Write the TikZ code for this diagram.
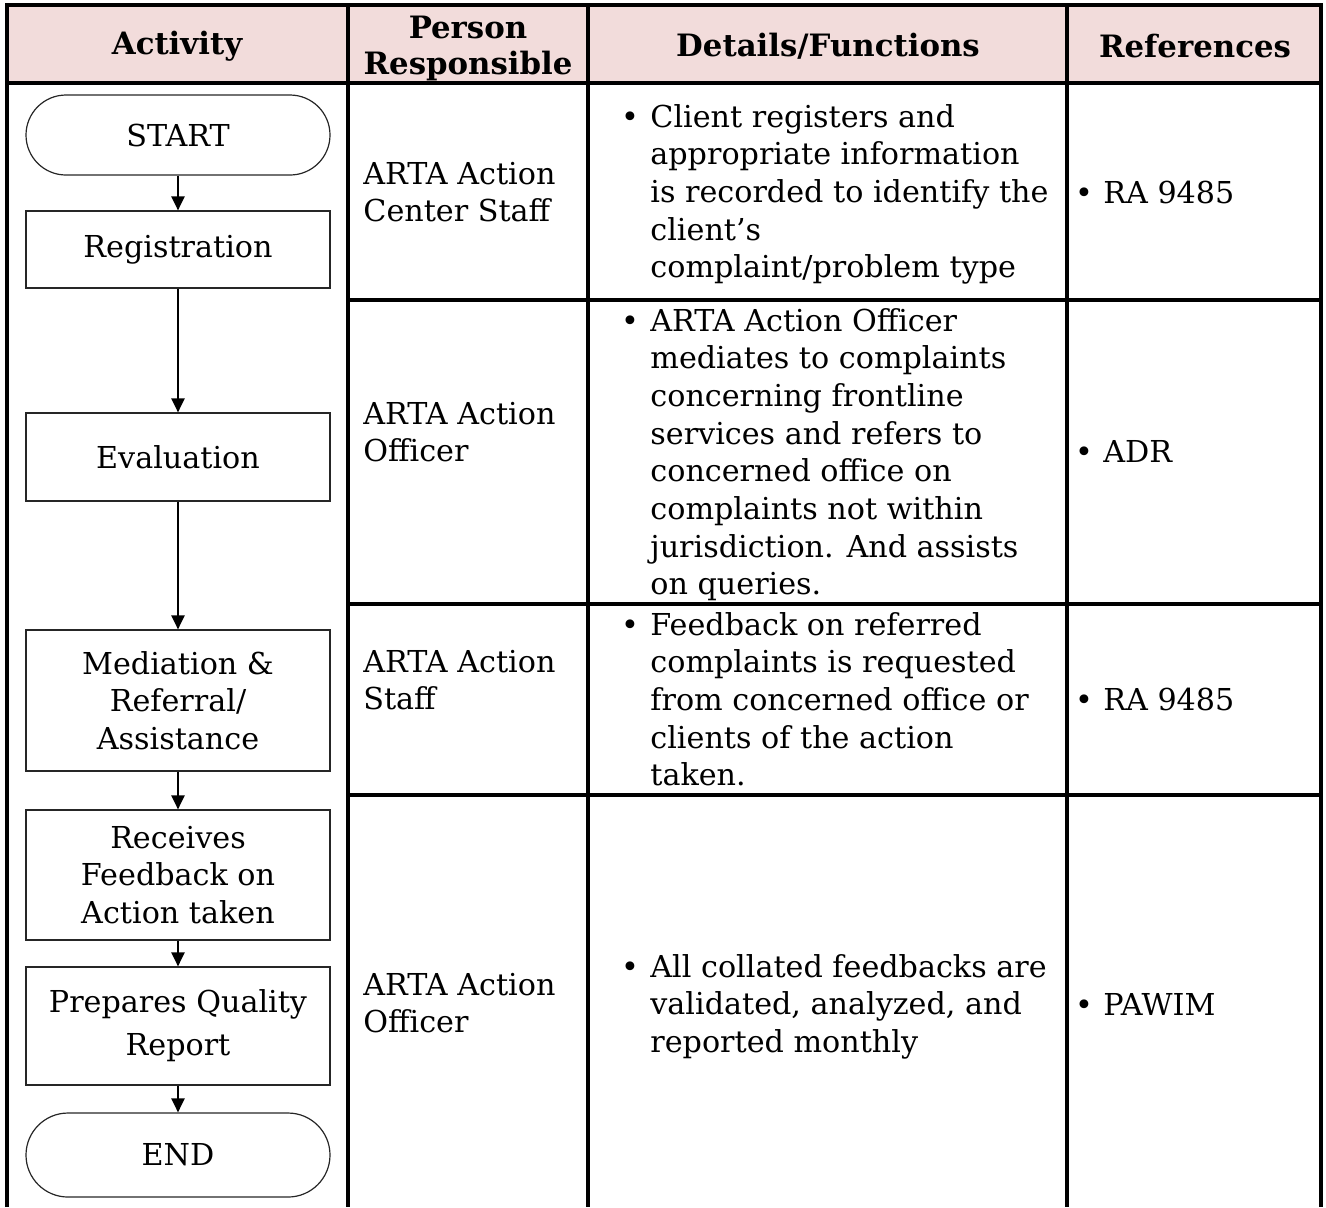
\documentclass[tikz,border=0pt]{standalone}
\usepackage{fontspec}
\setmainfont{DejaVu Serif}
\usetikzlibrary{arrows.meta}
\definecolor{hdr}{RGB}{242,220,219}
\newcommand\cellt[1]{\begin{tabular}[t]{@{}l@{}}#1\end{tabular}}
\begin{document}
\begin{tikzpicture}[x=0.5pt,y=-0.5pt,
  txt/.style={font=\fontsize{15.1}{18.85}\selectfont, inner sep=0pt},
  hd/.style={font=\fontsize{15.4}{18}\selectfont\bfseries, inner sep=0pt, align=center},
  fbox/.style={draw=black!85, line width=0.6pt, inner sep=0pt, align=center,
    font=\fontsize{15.1}{18.75}\selectfont, minimum width=152pt},
  term/.style={fbox, rounded corners=20pt},
  flow/.style={line width=1.1pt, -{Triangle[length=7pt,width=6.5pt]}},
  gridline/.style={line width=1.6pt},
  cell/.style={txt, anchor=base west},
  bul/.style={txt, anchor=base},
  ]
\useasboundingbox (0,0) rectangle (1326,1207);
% header band
\fill[hdr] (7,5) rectangle (1321,83);
% table grid
\draw[gridline] (7,1207) -- (7,5) -- (1321,5) -- (1321,1207);
\draw[gridline] (7,83) -- (1321,83);
\draw[gridline] (348,5) -- (348,1207);
\draw[gridline] (588,5) -- (588,1207);
\draw[gridline] (1067,5) -- (1067,1207);
\draw[gridline] (348,300) -- (1321,300);
\draw[gridline] (348,604) -- (1321,604);
\draw[gridline] (348,795) -- (1321,795);
% headers
\node[hd] (h1) at (177,46) {Activity};
\node[hd] (h2) at (468,48) {Person\\Responsible};
\node[hd] (h3) at (828,46) {Details/Functions};
\node[hd] (h4) at (1195,46) {References};
% flowchart
\node[term, minimum height=40pt] (start) at (178,135) {START};
\node[fbox, minimum height=38.5pt] (reg) at (178,249.5) {Registration};
\node[fbox, minimum height=44pt] (eval) at (178,457) {Evaluation};
\node[fbox, minimum height=70.5pt] (med) at (178,700.5) {Mediation \&\\Referral/\\Assistance};
\node[fbox, minimum height=65pt] (rec) at (178,875) {Receives\\Feedback on\\Action taken};
\node[fbox, minimum height=59pt, font=\fontsize{15.1}{21.5}\selectfont] (prep) at (178,1026) {Prepares Quality\\Report};
\node[term, minimum height=42pt, rounded corners=21pt] (end) at (178,1155) {END};
\draw[flow] (start) -- (reg);
\draw[flow] (reg) -- (eval);
\draw[flow] (eval) -- (med);
\draw[flow] (med) -- (rec);
\draw[flow] (rec) -- (prep);
\draw[flow] (prep) -- (end);
% person responsible
\node[cell] (p1) at (363,184) {\cellt{ARTA Action\\Center Staff}};
\node[cell] (p2) at (363,424) {\cellt{ARTA Action\\Officer}};
\node[cell] (p3) at (363,672) {\cellt{ARTA Action\\Staff}};
\node[cell] (p4) at (363,995) {\cellt{ARTA Action\\Officer}};
% details
\node[bul] (db1) at (630,127) {•};
\node[cell] (d1) at (650,127) {\cellt{Client registers and\\appropriate information\\is recorded to identify the\\client’s\\complaint/problem type}};
\node[bul] (db2) at (630,331) {•};
\node[cell] (d2) at (650,331) {\cellt{ARTA Action Officer\\mediates to complaints\\concerning frontline\\services and refers to\\concerned office on\\complaints not within\\jurisdiction. And assists\\on queries.}};
\node[bul] (db3) at (630,635) {•};
\node[cell] (d3) at (650,635) {\cellt{Feedback on referred\\complaints is requested\\from concerned office or\\clients of the action\\taken.}};
\node[bul] (db4) at (630,977) {•};
\node[cell] (d4) at (650,977) {\cellt{All collated feedbacks are\\validated, analyzed, and\\reported monthly}};
% references
\node[bul] (rb1) at (1084,203) {•};
\node[cell] (r1) at (1103,203) {RA 9485};
\node[bul] (rb2) at (1084,462) {•};
\node[cell] (r2) at (1103,462) {ADR};
\node[bul] (rb3) at (1084,710) {•};
\node[cell] (r3) at (1103,710) {RA 9485};
\node[bul] (rb4) at (1084,1015) {•};
\node[cell] (r4) at (1103,1015) {PAWIM};
\end{tikzpicture}
\end{document}
